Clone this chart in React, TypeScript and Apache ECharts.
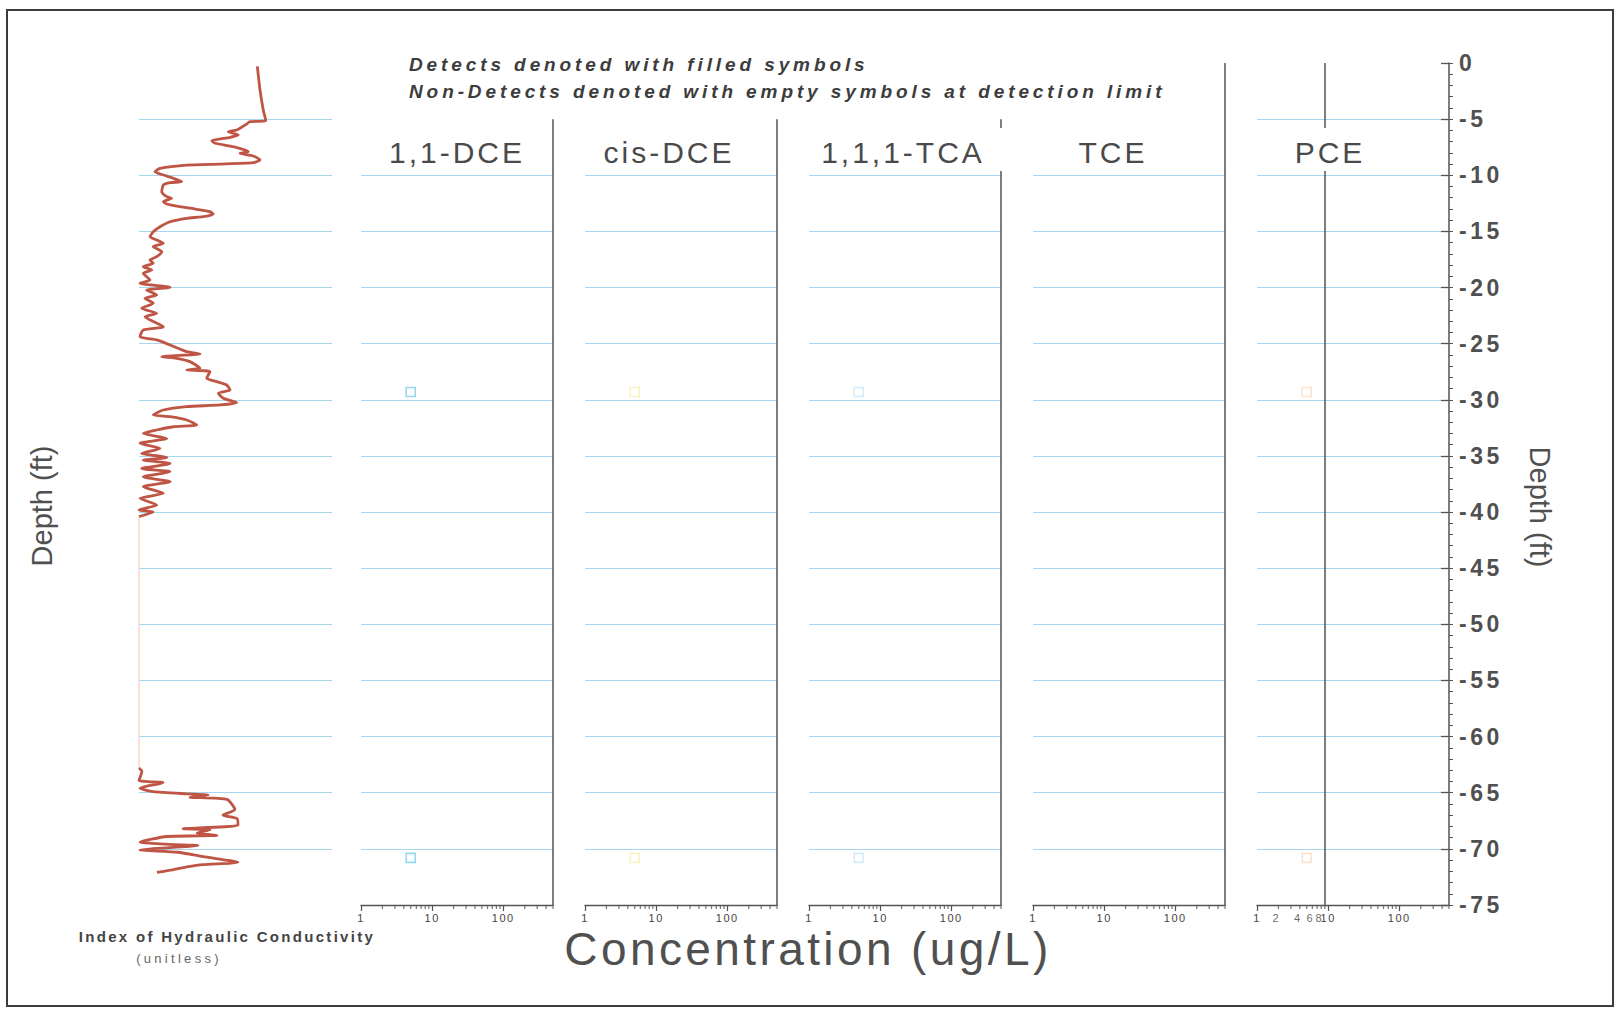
import React, { useEffect, useRef } from 'react';
import * as echarts from 'echarts';

// ---------- data ----------
const analytes = ['1,1-DCE', 'cis-DCE', '1,1,1-TCA', 'TCE', 'PCE'];
const sampleDepths = [-29.3, -70.8];
const nonDetectLimits: number[][] = [[5, 5], [5, 5], [5, 5], [], [5, 5]];
const symbolColors = ['#7ccdec', '#f8efb4', '#c6e9f6', '#d5edf6', '#fbdcc0'];
const panelBorderTop: (number | null)[] = [-5, -5, -5, 0, null];
const pceInnerLineX = 9;
const concMinorTicks = [2, 3, 4, 5, 6, 7, 8, 9, 20, 30, 40, 50, 60, 70, 80, 90, 200, 300, 400, 500];
const pceExtraLabels = [2, 4, 6, 8];

// Index of hydraulic conductivity (unitless, 0-100) vs depth (ft)
const conductivityUpper: number[][] = [
  [61.3, -0.3], [62.7, -2.4], [64.4, -4.2], [65.6, -5.08], [65.6, -5.17], [57.5, -5.23], [55.8, -5.43],
  [50.6, -5.97], [46.3, -6.12], [51.4, -6.41], [47.2, -6.62], [37.7, -6.92], [39.4, -7.15], [48.9, -7.45],
  [54.9, -7.75], [56.6, -7.9], [52.3, -8.04], [59.2, -8.28], [62.7, -8.64], [59.2, -8.88], [42.0, -9.0],
  [24.7, -9.09], [10.9, -9.38], [8.3, -9.68], [12.6, -9.98], [17.8, -10.27], [22.1, -10.57], [16.1, -10.66],
  [12.6, -10.87], [11.8, -11.46], [14.4, -11.91], [16.9, -12.05], [12.6, -12.35], [14.4, -12.56], [21.2, -12.8],
  [29.9, -13.03], [36.8, -13.24], [38.5, -13.45], [33.3, -13.69], [24.7, -13.83], [16.1, -14.14], [10.9, -14.58],
  [7.4, -15.03], [5.7, -15.47], [9.2, -15.77], [12.6, -16.06], [7.4, -16.36], [11.8, -16.81], [9.2, -17.25],
  [5.7, -17.55], [7.4, -17.84], [2.2, -18.14], [6.6, -18.44], [2.2, -18.73], [5.7, -19.33], [0.5, -19.62],
  [16.1, -19.98], [4.0, -20.22], [9.2, -20.66], [3.1, -20.96], [7.4, -21.4], [1.4, -21.85], [9.2, -22.3],
  [3.1, -22.6], [12.6, -23.49], [2.2, -23.78], [0.5, -24.38], [9.2, -24.67], [16.1, -25.12], [24.7, -25.71],
  [31.6, -25.92], [11.8, -26.16], [19.5, -26.3], [26.4, -26.6], [31.6, -27.19], [24.7, -27.34], [36.8, -27.49],
  [35.1, -28.08], [40.3, -28.38], [45.4, -28.68], [47.2, -29.13], [41.1, -29.42], [43.7, -29.87], [50.6, -30.26],
  [42.0, -30.46], [24.7, -30.61], [12.6, -30.91], [7.4, -31.35], [16.1, -31.5], [24.7, -31.8], [29.9, -32.24],
  [17.8, -32.4], [9.2, -32.69], [2.2, -32.99], [14.4, -33.44], [0.5, -33.88], [10.9, -34.33], [1.4, -34.77],
  [14.4, -35.13], [2.2, -35.37], [16.1, -35.67], [1.4, -36.12], [16.1, -36.41], [2.2, -36.86], [16.1, -37.3],
  [2.2, -37.74], [12.6, -38.33], [0.5, -38.78], [9.2, -39.37], [0, -39.81], [7.3, -40.0], [0, -40.4],
];
const conductivityGap: number[][] = [[0, -40.4], [0, -62.8]];
const conductivityLower: number[][] = [
  [0, -62.8], [1.5, -63.1], [0, -63.9], [12.4, -64.1], [0.5, -64.6], [7.3, -64.9], [24.9, -65.1], [35.8, -65.2],
  [26.4, -65.4], [45.6, -65.6], [49.7, -66.5], [43.5, -67.0], [50.8, -67.3], [51.3, -67.9], [22.8, -68.2],
  [36.8, -68.3], [30.1, -68.6], [40.4, -68.8], [14.5, -68.9], [0.5, -69.4], [16.1, -69.6], [30.6, -69.7],
  [0.5, -70.1], [20.2, -70.3], [33.2, -70.7], [51.3, -71.2], [33.2, -71.4], [24.9, -71.6], [16.1, -71.9], [9.3, -72.1],
];

// ---------- styles ----------
const FONT = "'Liberation Sans', Arial, Helvetica, sans-serif";
const GRID_BLUE = '#a6d7ee';
const CLEAR = 'rgba(0,0,0,0)';
const AXIS_GRAY = '#555555';
const CURVE = '#bf5545';
const TOP = 63;
const HEIGHT = 842;
const titleCenters = [457, 669, 903, 1113, 1330];
const titleBoxWidths = [175, 170, 212, 110, 130];

const cssText = `
#chart-root text[style*="19px"]{letter-spacing:3.9px}
#chart-root text[style*="30px"]{letter-spacing:3px}
#chart-root text[style*="46px"]{letter-spacing:3.4px}
#chart-root text[style*="15px"]{letter-spacing:2.3px}
#chart-root text[style*="13px"]{letter-spacing:3.3px}
#chart-root text[style*="23px"]{letter-spacing:3.5px}
#chart-root text[style*="11px"]{letter-spacing:1.5px}
`;

function buildOption() {
  const hydroLines = [CLEAR, ...Array(14).fill(GRID_BLUE), CLEAR];
  const panelLines = [CLEAR, ...Array(13).fill(GRID_BLUE), CLEAR, CLEAR];

  const grid: any[] = [{ left: 139, top: TOP, width: 193, height: HEIGHT }];
  analytes.forEach((_, i) => grid.push({ left: 361 + 224 * i, top: TOP, width: 192, height: HEIGHT }));

  const xAxis: any[] = [{ gridIndex: 0, type: 'value', min: 0, max: 100, show: false }];
  analytes.forEach((_, i) => {
    xAxis.push({
      gridIndex: i + 1,
      type: 'log',
      logBase: 10,
      min: 1,
      max: 500,
      position: 'bottom',
      axisLine: { show: true, onZero: false, lineStyle: { color: AXIS_GRAY, width: 1.4 } },
      axisTick: { show: true, length: 6, lineStyle: { color: AXIS_GRAY, width: 1.2 } },
      minorTick: { show: false },
      axisLabel: { show: true, fontSize: 11, color: '#444', margin: 7, showMaxLabel: false, fontFamily: FONT },
      splitLine: { show: false },
    });
  });

  const yAxis: any[] = [
    {
      gridIndex: 0, type: 'value', min: -75, max: 0, interval: 5,
      axisLine: { show: false }, axisTick: { show: false }, axisLabel: { show: false },
      splitLine: { show: true, showMinLine: true, showMaxLine: true, lineStyle: { color: hydroLines, width: 1.2 } },
    },
  ];
  analytes.forEach((_, i) => {
    const last = i === analytes.length - 1;
    yAxis.push({
      gridIndex: i + 1, type: 'value', min: -75, max: 0, interval: 5,
      position: 'right',
      axisLine: { show: last, lineStyle: { color: AXIS_GRAY, width: 1.5 } },
      axisTick: { show: last, inside: true, length: 8, lineStyle: { color: AXIS_GRAY, width: 1.3 } },
      axisLabel: {
        show: last, fontSize: 23, fontWeight: 'bold', color: '#505050', margin: 10, fontFamily: FONT,
      },
      splitLine: {
        show: true, showMinLine: true, showMaxLine: true,
        lineStyle: { color: last ? hydroLines : panelLines, width: 1.2 },
      },
    });
  });
  // minor depth ticks on the right axis
  yAxis.push({
    gridIndex: analytes.length, type: 'value', min: -75, max: 0, interval: 1, position: 'right',
    axisLine: { show: false }, axisLabel: { show: false }, splitLine: { show: false },
    axisTick: { show: true, inside: false, length: 4, lineStyle: { color: AXIS_GRAY, width: 1 } },
  });

  const series: any[] = [
    {
      type: 'line', xAxisIndex: 0, yAxisIndex: 0, data: conductivityUpper, symbol: 'none',
      smooth: 0.2, lineStyle: { color: CURVE, width: 2.8 }, silent: true,
    },
    {
      type: 'line', xAxisIndex: 0, yAxisIndex: 0, data: conductivityGap, symbol: 'none',
      lineStyle: { color: '#f4c6ab', width: 1 }, silent: true,
    },
    {
      type: 'line', xAxisIndex: 0, yAxisIndex: 0, data: conductivityLower, symbol: 'none',
      smooth: 0.2, lineStyle: { color: CURVE, width: 2.8 }, silent: true,
    },
  ];

  analytes.forEach((name, i) => {
    const markData: any[] = [];
    if (panelBorderTop[i] !== null) {
      markData.push([{ coord: [500, panelBorderTop[i]] }, { coord: [500, -75] }]);
    }
    if (name === 'PCE') {
      markData.push([{ coord: [pceInnerLineX, 0] }, { coord: [pceInnerLineX, -75] }]);
    }
    // minor log ticks (and panel border lines)
    series.push({
      type: 'scatter', xAxisIndex: i + 1, yAxisIndex: i + 1, silent: true, clip: false, z: 3,
      data: concMinorTicks.map((v) => [v, -75]),
      symbol: 'rect', symbolSize: [1.2, 4], symbolOffset: [0, 2],
      itemStyle: { color: AXIS_GRAY },
      markLine: {
        silent: true, symbol: ['none', 'none'], label: { show: false },
        lineStyle: { color: AXIS_GRAY, width: 1.5, type: 'solid' },
        emphasis: { disabled: true },
        data: markData,
      },
    });
    // non-detect symbols
    series.push({
      name, type: 'scatter', xAxisIndex: i + 1, yAxisIndex: i + 1, silent: true,
      data: nonDetectLimits[i].map((v, k) => [v, sampleDepths[k]]),
      symbol: 'rect', symbolSize: 9,
      itemStyle: { color: 'rgba(255,255,255,0)', borderColor: symbolColors[i], borderWidth: 1.6 },
    });
    if (name === 'PCE') {
      series.push({
        type: 'scatter', xAxisIndex: i + 1, yAxisIndex: i + 1, silent: true, clip: false,
        data: pceExtraLabels.map((v) => [v, -75]),
        symbolSize: 1, itemStyle: { color: CLEAR },
        label: {
          show: true, position: 'bottom', distance: 7, offset: [-2, 0], fontSize: 11, color: '#444',
          fontFamily: FONT,
          formatter: (p: any) => String(p.value[0]),
        },
      });
    }
  });

  const graphic: any[] = [
    {
      type: 'rect', z: 0, silent: true,
      shape: { x: 7, y: 10, width: 1606, height: 996 },
      style: { fill: 'none', stroke: '#3c3c3c', lineWidth: 2 },
    },
    {
      type: 'text', x: 409, y: 64, z: 60, silent: true,
      style: {
        text: 'Detects denoted with filled symbols', fill: '#3d3d3d', fontSize: 19, fontWeight: 'bold',
        fontStyle: 'italic', fontFamily: FONT, textAlign: 'left', align: 'left',
        textVerticalAlign: 'middle', verticalAlign: 'middle',
      },
    },
    {
      type: 'text', x: 409, y: 91, z: 60, silent: true,
      style: {
        text: 'Non-Detects denoted with empty symbols at detection limit', fill: '#3d3d3d', fontSize: 19,
        fontWeight: 'bold', fontStyle: 'italic', fontFamily: FONT, textAlign: 'left', align: 'left',
        textVerticalAlign: 'middle', verticalAlign: 'middle',
      },
    },
    {
      type: 'text', x: 42, y: 506, rotation: Math.PI / 2, z: 60, silent: true,
      style: {
        text: 'Depth (ft)', fill: '#505050', fontSize: 29, fontFamily: FONT, textAlign: 'center', align: 'center',
        textVerticalAlign: 'middle', verticalAlign: 'middle',
      },
    },
    {
      type: 'text', x: 1540, y: 507, rotation: -Math.PI / 2, z: 60, silent: true,
      style: {
        text: 'Depth (ft)', fill: '#505050', fontSize: 29, fontFamily: FONT, textAlign: 'center', align: 'center',
        textVerticalAlign: 'middle', verticalAlign: 'middle',
      },
    },
    {
      type: 'text', x: 227, y: 936, z: 60, silent: true,
      style: {
        text: 'Index of Hydraulic Conductivity', fill: '#444', fontSize: 15, fontWeight: 'bold', fontFamily: FONT,
        textAlign: 'center', align: 'center', textVerticalAlign: 'middle', verticalAlign: 'middle',
      },
    },
    {
      type: 'text', x: 179, y: 958, z: 60, silent: true,
      style: {
        text: '(unitless)', fill: '#666', fontSize: 13, fontFamily: FONT,
        textAlign: 'center', align: 'center', textVerticalAlign: 'middle', verticalAlign: 'middle',
      },
    },
    {
      type: 'text', x: 808, y: 949, z: 60, silent: true,
      style: {
        text: 'Concentration (ug/L)', fill: '#505050', fontSize: 46, fontFamily: FONT,
        textAlign: 'center', align: 'center', textVerticalAlign: 'middle', verticalAlign: 'middle',
      },
    },
  ];
  analytes.forEach((name, i) => {
    graphic.push({
      type: 'rect', z: 50, silent: true,
      shape: { x: titleCenters[i] - titleBoxWidths[i] / 2, y: 128, width: titleBoxWidths[i], height: 43 },
      style: { fill: '#ffffff' },
    });
    graphic.push({
      type: 'text', x: titleCenters[i], y: 152, z: 51, silent: true,
      style: {
        text: name, fill: '#4a4a4a', fontSize: 30, fontFamily: FONT,
        textAlign: 'center', align: 'center', textVerticalAlign: 'middle', verticalAlign: 'middle',
      },
    });
  });

  return {
    animation: false,
    backgroundColor: '#ffffff',
    grid,
    xAxis,
    yAxis,
    series,
    graphic,
  };
}

export default function App() {
  const ref = useRef<HTMLDivElement | null>(null);
  useEffect(() => {
    if (!ref.current) return;
    const chart = echarts.init(ref.current, undefined, { renderer: 'svg' });
    chart.setOption(buildOption() as any);
    return () => chart.dispose();
  }, []);
  return (
    <>
      <style>{cssText}</style>
      <div
        id="chart-root"
        ref={ref}
        style={{ position: 'fixed', left: 0, top: 0, width: 1617, height: 1010, background: '#fff' }}
      />
    </>
  );
}
